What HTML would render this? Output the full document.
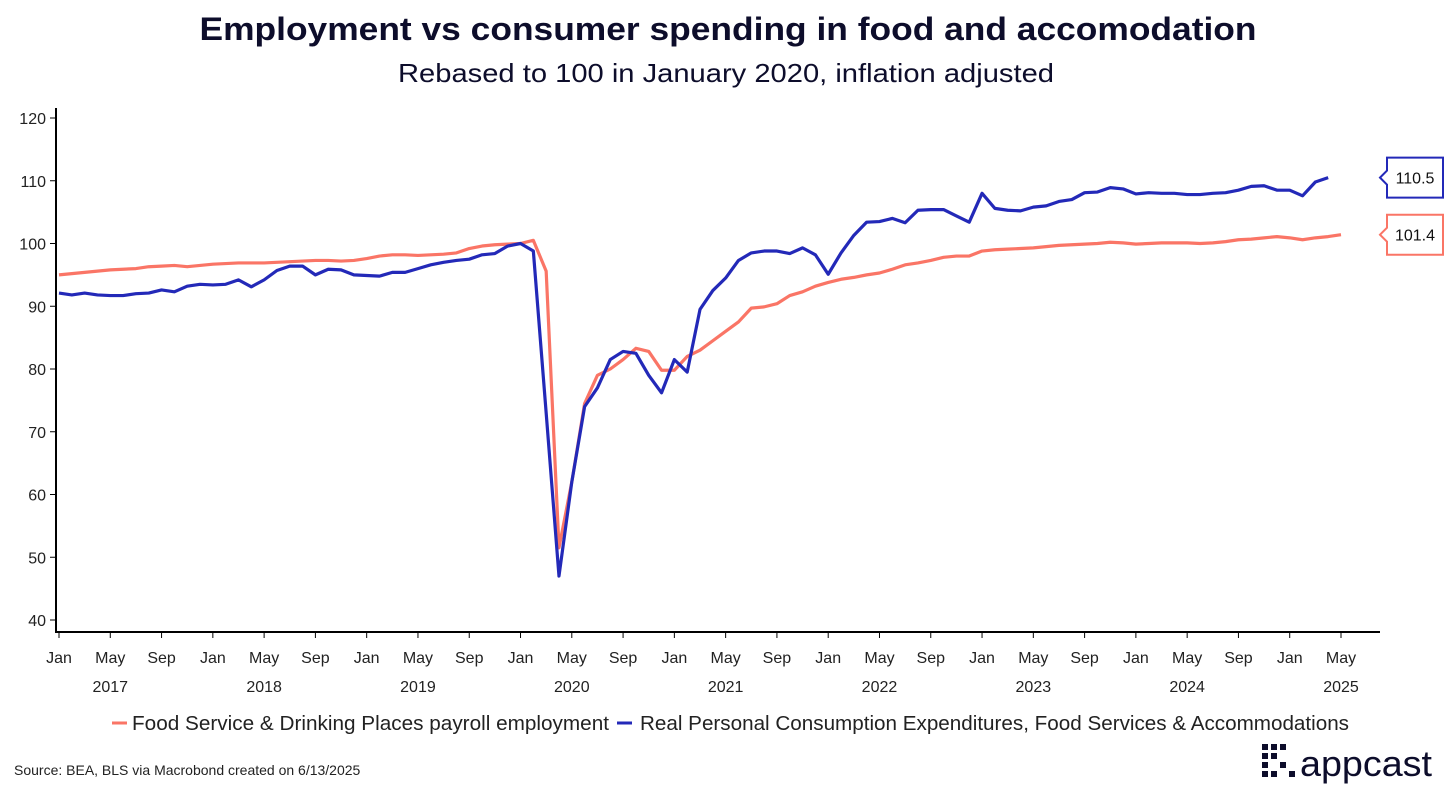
<!DOCTYPE html>
<html><head><meta charset="utf-8"><style>
body{margin:0;background:#fff;font-family:"Liberation Sans",sans-serif;}
svg{display:block}
</style></head><body>
<svg id="c" width="1456" height="794">
<text x="728" y="40" text-anchor="middle" font-size="32" font-weight="bold" fill="#0d0d2b" textLength="1057" lengthAdjust="spacingAndGlyphs">Employment vs consumer spending in food and accomodation</text>
<text x="726" y="82" text-anchor="middle" font-size="26" fill="#0d0d2b" textLength="656" lengthAdjust="spacingAndGlyphs">Rebased to 100 in January 2020, inflation adjusted</text>
<g id="axes"></g><g id="series"></g>
<g>
<line x1="112" y1="723" x2="127" y2="723" stroke="#fa7566" stroke-width="3"/>
<text x="132" y="730" font-size="20" fill="#222" textLength="477" lengthAdjust="spacingAndGlyphs">Food Service &amp; Drinking Places payroll employment</text>
<line x1="617" y1="723" x2="632" y2="723" stroke="#2329b8" stroke-width="3"/>
<text x="640" y="730" font-size="20" fill="#222" textLength="709" lengthAdjust="spacingAndGlyphs">Real Personal Consumption Expenditures, Food Services &amp; Accommodations</text>
</g>
<text x="14" y="775" font-size="14" fill="#222">Source: BEA, BLS via Macrobond created on 6/13/2025</text>
<g>
<g fill="#0d0d2b"><rect x="1262" y="744" width="6" height="6"/><rect x="1271" y="744" width="6" height="6"/><rect x="1280" y="744" width="6" height="6"/><rect x="1262" y="753" width="6" height="6"/><rect x="1271" y="753" width="6" height="6"/><rect x="1262" y="762" width="6" height="6"/><rect x="1280" y="762" width="6" height="6"/><rect x="1271" y="771" width="6" height="6"/><rect x="1262" y="771" width="6" height="6"/><rect x="1289" y="771" width="6" height="6"/></g>
<text x="1300" y="776" font-size="36" fill="#0d0d2b" textLength="132" lengthAdjust="spacingAndGlyphs">appcast</text>
</g>
</svg>
<script>
const yTicks=[40,50,60,70,80,90,100,110,120];
const monthLabels=["Jan","May","Sep"];
const years=["2017","2018","2019","2020","2021","2022","2023","2024","2025"];
const employment=[95.0,95.2,95.4,95.6,95.8,95.9,96.0,96.3,96.4,96.5,96.3,96.5,
96.7,96.8,96.9,96.9,96.9,97.0,97.1,97.2,97.3,97.3,97.2,97.3,
97.6,98.0,98.2,98.2,98.1,98.2,98.3,98.5,99.2,99.6,99.8,99.9,
100.0,100.5,95.6,51.5,62.0,74.5,79.0,80.0,81.5,83.3,82.8,79.8,
79.8,82.0,83.0,84.5,86.0,87.5,89.7,89.9,90.4,91.7,92.3,93.2,
93.8,94.3,94.6,95.0,95.3,95.9,96.6,96.9,97.3,97.8,98.0,98.0,
98.8,99.0,99.1,99.2,99.3,99.5,99.7,99.8,99.9,100.0,100.2,100.1,
99.9,100.0,100.1,100.1,100.1,100.0,100.1,100.3,100.6,100.7,100.9,101.1,
100.9,100.6,100.9,101.1,101.4];
const spending=[92.1,91.8,92.1,91.8,91.7,91.7,92.0,92.1,92.6,92.3,93.2,93.5,
93.4,93.5,94.2,93.1,94.2,95.7,96.4,96.4,95.0,95.9,95.8,95.0,
94.9,94.8,95.4,95.4,96.0,96.6,97.0,97.3,97.5,98.2,98.4,99.6,
100.0,98.8,73.0,47.0,62.0,74.0,77.0,81.5,82.8,82.5,79.0,76.2,
81.5,79.5,89.5,92.5,94.5,97.3,98.5,98.8,98.8,98.4,99.3,98.2,
95.1,98.5,101.3,103.4,103.5,104.0,103.3,105.3,105.4,105.4,104.4,103.4,
108.0,105.6,105.3,105.2,105.8,106.0,106.7,107.0,108.1,108.2,108.9,108.7,
107.9,108.1,108.0,108.0,107.8,107.8,108.0,108.1,108.5,109.1,109.2,108.5,
108.5,107.6,109.8,110.5];
const NS="http://www.w3.org/2000/svg";
const X=i=>59+i*12.82, Y=v=>620-(v-40)*6.275;
function mk(t,a,p){const e=document.createElementNS(NS,t);for(const k in a)e.setAttribute(k,a[k]);p.appendChild(e);return e;}
const ax=document.getElementById('axes'), se=document.getElementById('series');
let l=mk('line',{x1:56,y1:108,x2:56,y2:632,stroke:'#000','stroke-width':2},ax);


l=mk('line',{x1:55,y1:632,x2:1380,y2:632,stroke:'#000','stroke-width':2},ax);


yTicks.forEach(v=>{mk('line',{x1:50,x2:56,y1:Y(v),y2:Y(v),stroke:'#000'},ax);
const t=mk('text',{x:46,y:Y(v)+6,'text-anchor':'end','font-size':16,fill:'#222'},ax);t.textContent=v;

});
years.forEach((yr,k)=>{monthLabels.forEach((m,j)=>{const i=k*12+j*4;if(i>100)return;
mk('line',{x1:X(i),x2:X(i),y1:632,y2:638,stroke:'#000'},ax);
const t=mk('text',{x:X(i),y:663,'text-anchor':'middle','font-size':16,fill:'#222'},ax);t.textContent=m;

});
const t=mk('text',{x:X(k*12+4),y:692,'text-anchor':'middle','font-size':16,fill:'#222'},ax);t.textContent=yr;

});
function line(d,c,name){const p=mk('polyline',{points:d.map((v,i)=>X(i)+','+Y(v)).join(' '),fill:'none',stroke:c,'stroke-width':3.2,'stroke-linejoin':'round'},se);


const v=d[d.length-1],y=Y(v);
const g=mk('g',{},se);


mk('path',{d:`M1380 ${y} L1387 ${y-7} L1387 ${y-20} L1443 ${y-20} L1443 ${y+20} L1387 ${y+20} L1387 ${y+7} Z`,fill:'#fff',stroke:c,'stroke-width':2},g);
const t=mk('text',{x:1415,y:y+6,'text-anchor':'middle','font-size':16,fill:'#111'},g);t.textContent=v.toFixed(1);}
line(employment,'#fa7566','employment-line');
line(spending,'#2329b8','spending-line');
</script>
</body></html>
